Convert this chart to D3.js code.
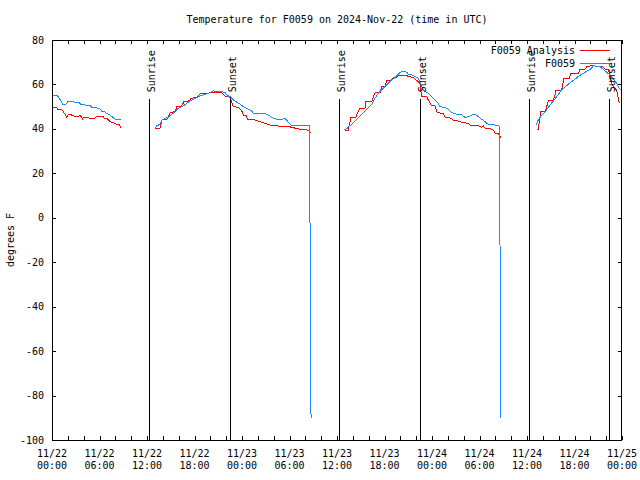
<!DOCTYPE html>
<html>
<head>
<meta charset="utf-8">
<script src="https://cdn.jsdelivr.net/npm/d3@7"></script>
<style>
  html, body { margin: 0; padding: 0; background: #fff; }
  svg { display: block; }
  text { font-family: "DejaVu Sans Mono", "Liberation Mono", monospace; font-size: 10px; fill: #000; }
</style>
</head>
<body>
<svg id="chart" width="640" height="480"></svg>
<script>
// ---- Data (hours after 2024-11-22 00:00 UTC; null = gap) ----
const titleText = "Temperature for F0059 on 2024-Nov-22 (time in UTC)";
const yLabelText = "degrees F";
const seriesNames = ["F0059 Analysis", "F0059"];
const yTicks = [80, 60, 40, 20, 0, -20, -40, -60, -80, -100];

const anaHours = [
  0.09,0.59,0.67,1.23,1.43,1.64,1.86,2.06,2.36,2.56,2.91,3.32,3.54,3.75,3.83,3.95,4.71,5.43,5.72,6.40,6.61,6.91,7.20,7.54,8.17,8.46,8.72,
  null,
  13.05,13.64,13.73,13.90,14.49,14.82,14.91,15.54,15.75,16.38,16.67,17.43,17.52,18.28,18.69,19.54,20.30,21.44,21.85,22.48,22.70,22.90,23.53,23.96,24.16,24.59,24.67,25.64,26.69,27.54,28.59,29.65,30.28,31.33,31.96,32.38,32.68,
  null,
  36.96,37.43,37.55,37.77,38.40,38.56,38.91,39.54,39.66,40.38,40.59,40.80,41.43,41.65,42.06,42.28,42.91,43.11,43.54,43.74,44.81,45.01,45.64,45.98,46.27,46.49,46.58,46.70,47.33,47.53,47.88,48.38,48.67,49.43,49.64,50.49,50.62,51.33,51.96,52.59,52.80,53.65,54.28,54.48,54.70,55.33,55.75,55.96,56.38,56.59,56.68,
  null,
  61.23,61.43,61.56,61.73,62.28,62.49,62.69,63.32,63.54,63.66,64.38,64.51,64.67,65.35,65.52,66.48,66.69,67.33,67.54,67.96,68.38,68.59,69.44,69.86,70.28,70.49,70.70,70.91,71.33,71.41,71.66
];
const anaTemps = [
  49.7,49.55,48.95,48.8,47.7,46.6,45.2,46.6,46.6,46,45.7,45.7,46,45.2,44.3,45.2,44.9,44.9,45.8,45.8,44.8,44.8,43.7,43,42.1,42.1,40.3,
  null,
  40.25,40.25,41.75,44,44.3,46.25,47.3,47.75,50,50.3,52.25,52.7,53.75,54.2,55.7,56,56.45,56.3,54.8,54.2,52.25,50,49.7,48.2,46.25,45.8,44.3,44,42.8,41.75,41.3,41.3,40.7,39.8,39.8,39.2,38.3,
  null,
  39.5,39.5,41.75,45.2,45.2,47,49.25,49.25,52.25,52.25,54.5,56.3,56.3,59,59.3,61.7,62,63.2,63.2,64.25,64.25,63.5,63.2,62,61.25,60.2,57.5,54.5,54.5,53,50.75,50.3,47.3,47,45.2,44.75,44,43.55,42.8,42.5,41.75,41.75,40.7,41.3,40.25,40.25,39.5,38,38,36.5,36.2,
  null,
  39.8,39.8,43.25,47.75,47.75,50,52.7,52.7,55.25,57.5,57.5,59.75,62.75,62.75,65,65,66.8,66.8,68,68.3,68.75,68.3,68.3,66.8,66.8,63.5,60.5,59,57.5,56,51.5
];

const obsHours = [
  0.09,0.59,0.92,1.35,1.77,2.06,2.56,2.91,3.45,3.63,4.17,4.71,5.01,5.65,6.06,6.28,6.57,6.91,7.33,7.74,7.96,8.72,
  null,
  13.05,13.23,13.64,13.86,14.27,14.69,15.12,15.54,15.95,16.59,17.02,17.43,18.06,18.69,19.11,19.74,20.17,20.38,20.59,21.44,21.85,22.14,22.57,22.90,23.33,23.75,24.16,24.59,25.23,25.43,26.91,27.32,27.75,28.38,29.02,29.22,29.43,29.72,30.06,30.28,32.55,32.58,32.64,32.72,
  null,
  36.96,37.31,37.43,37.86,38.27,38.69,39.12,39.54,39.95,40.38,40.80,41.22,41.65,42.06,42.48,42.91,43.33,43.54,43.96,44.17,44.59,44.81,45.01,45.44,45.85,46.27,46.49,46.70,46.90,47.12,47.53,47.96,48.38,48.80,49.01,49.64,50.06,50.49,51.12,51.75,52.17,52.59,53.02,53.43,53.85,54.28,54.70,55.11,55.96,56.50,56.55,56.60,56.66,
  null,
  61.23,61.30,61.56,61.86,62.28,62.69,62.99,63.32,63.66,63.96,64.26,64.59,65.02,65.35,65.77,66.19,66.61,67.11,67.62,68.05,68.30,68.46,68.59,68.81,69.22,69.44,69.73,70.07,70.48,70.83,71.12,71.41,71.66,71.84
];
const obsTemps = [
  55.25,55.25,53.8,51.2,51.2,52.55,52.55,51.8,51.8,51.1,50.75,50.75,49.7,49.5,48.9,48,47.9,46.9,46.25,45,44.45,44.45,
  null,
  40.55,41.4,42.05,43.9,44.7,45.2,46.55,47.7,49.25,50.3,51.5,52.55,53.75,54.8,55.25,56,56.75,57.2,56.75,56.75,56.45,54.95,54.5,53,52,51.1,50,49.25,48.05,47,47,46.25,45.2,44.3,44,44.45,44.75,43.55,42.2,41.4,41.4,9,-57,-90,
  null,
  39.5,40.25,41,42.05,43.55,45.05,46.55,48.05,49.55,51.05,53.75,56,57.5,59,60.5,62,63.05,63.8,65.45,65.75,65.75,65.45,64.55,64.25,63.5,62.75,61.25,59,57.5,56.75,56,54.5,53,51.5,50,49.55,48.8,47.3,46.55,46.25,45.2,45.5,46.25,46.7,45.5,44.3,43.25,42.05,41.75,41.3,41.3,-24,-90,
  null,
  41.75,43.25,44.75,46.25,47.75,49.55,51.05,52.55,54.05,55.55,57.05,58.25,59.45,60.5,61.55,62.75,63.95,65,66.05,66.95,68,68.75,68.3,68,68,67.25,66.5,65.45,64.25,62.75,61.55,60.05,58.25,57.5
];

const sunriseHours = [12.27, 36.28, 60.29];
const sunsetHours = [22.52, 46.48, 70.42];
const sunLineTop = 53.3;   // value where the sun marker lines begin

// ---- Layout ----
const W = 640, H = 480;
const m = { left: 52, right: 18, top: 40, bottom: 40 };
const t0 = Date.UTC(2024, 10, 22, 0, 0);
const hr = h => new Date(t0 + h * 3600e3);

const x = d3.scaleUtc().domain([hr(0), hr(72)]).range([m.left, W - m.right]);
const y = d3.scaleLinear().domain([-100, 80]).range([H - m.bottom, m.top]);

const svg = d3.select("#chart");
svg.append("rect").attr("width", W).attr("height", H).attr("fill", "#fff");

const tick2h = d3.utcHour.every(2);
const tick6h = x.ticks(d3.utcHour.every(6));

function styleAxis(g) {
  g.select(".domain").remove();
  g.selectAll("line").attr("stroke", "#000").attr("shape-rendering", "crispEdges");
  g.selectAll("text").remove();
}

svg.append("g").attr("transform", `translate(0,${H - m.bottom})`)
  .call(d3.axisBottom(x).ticks(tick2h).tickSize(-4).tickFormat(""))
  .call(styleAxis);
svg.append("g").attr("transform", `translate(0,${m.top})`)
  .call(d3.axisTop(x).ticks(tick2h).tickSize(-4).tickFormat(""))
  .call(styleAxis);
svg.append("g").attr("transform", `translate(${m.left},0)`)
  .call(d3.axisLeft(y).tickValues(yTicks).tickSize(-4).tickFormat(""))
  .call(styleAxis);
svg.append("g").attr("transform", `translate(${W - m.right},0)`)
  .call(d3.axisRight(y).tickValues(yTicks).tickSize(-4).tickFormat(""))
  .call(styleAxis);

// y tick labels
svg.append("g").selectAll("text").data(yTicks).join("text")
  .attr("x", m.left - 8).attr("y", d => y(d)).attr("dy", "0.35em")
  .attr("text-anchor", "end").text(d => d);

// x tick labels (two lines)
const fmtD = d3.utcFormat("%m/%d"), fmtT = d3.utcFormat("%H:%M");
const xl = svg.append("g").selectAll("text").data(tick6h).join("text")
  .attr("text-anchor", "middle");
xl.append("tspan").attr("x", d => x(d)).attr("y", H - m.bottom + 17).text(d => fmtD(d));
xl.append("tspan").attr("x", d => x(d)).attr("y", H - m.bottom + 29).text(d => fmtT(d));

// title & y label
svg.append("text").attr("x", (m.left + W - m.right) / 2).attr("y", 23)
  .attr("text-anchor", "middle").text(titleText);
svg.append("text").attr("transform", `translate(14,${(m.top + H - m.bottom) / 2}) rotate(-90)`)
  .attr("text-anchor", "middle").text(yLabelText);

// clip
svg.append("clipPath").attr("id", "plotclip").append("rect")
  .attr("x", m.left).attr("y", m.top).attr("width", W - m.left - m.right).attr("height", H - m.top - m.bottom);

const line = d3.line().defined(d => d[0] !== null && d[1] !== null)
  .x(d => x(hr(d[0]))).y(d => y(d[1]));

const plot = svg.append("g").attr("clip-path", "url(#plotclip)");
plot.append("path").datum(d3.zip(anaHours, anaTemps))
  .attr("d", line).attr("fill", "none").attr("stroke", "#ff0000").attr("stroke-width", 1)
  .attr("shape-rendering", "crispEdges");
plot.append("path").datum(d3.zip(obsHours, obsTemps))
  .attr("d", line).attr("fill", "none").attr("stroke", "#1a8cff").attr("stroke-width", 1)
  .attr("shape-rendering", "crispEdges");

// sunrise / sunset markers
const sun = [
  ...sunriseHours.map(h => ({ h, label: "Sunrise" })),
  ...sunsetHours.map(h => ({ h, label: "Sunset" }))
];
const sg = svg.append("g");
sg.selectAll("line").data(sun).join("line")
  .attr("x1", d => Math.round(x(hr(d.h))) + 0.5).attr("x2", d => Math.round(x(hr(d.h))) + 0.5)
  .attr("y1", y(sunLineTop)).attr("y2", y(-100))
  .attr("stroke", "#000").attr("shape-rendering", "crispEdges");
sg.selectAll("text").data(sun).join("text")
  .attr("transform", d => `translate(${x(hr(d.h)) + 6},${y(sunLineTop) - 7}) rotate(-90)`)
  .attr("text-anchor", "start").text(d => d.label);

// border
svg.append("rect").attr("x", m.left + 0.5).attr("y", m.top + 0.5)
  .attr("width", W - m.left - m.right - 1).attr("height", H - m.top - m.bottom)
  .attr("fill", "none").attr("stroke", "#000").attr("shape-rendering", "crispEdges");

// legend
const legColors = ["#ff0000", "#1a8cff"];
const lg = svg.append("g");
seriesNames.forEach((name, i) => {
  const ly = 50 + i * 13;
  lg.append("text").attr("x", 575).attr("y", ly).attr("dy", "0.35em")
    .attr("text-anchor", "end").text(name);
  lg.append("line").attr("x1", 580).attr("x2", 610).attr("y1", ly + 0.5).attr("y2", ly + 0.5)
    .attr("stroke", legColors[i]).attr("shape-rendering", "crispEdges");
});
</script>
</body>
</html>
